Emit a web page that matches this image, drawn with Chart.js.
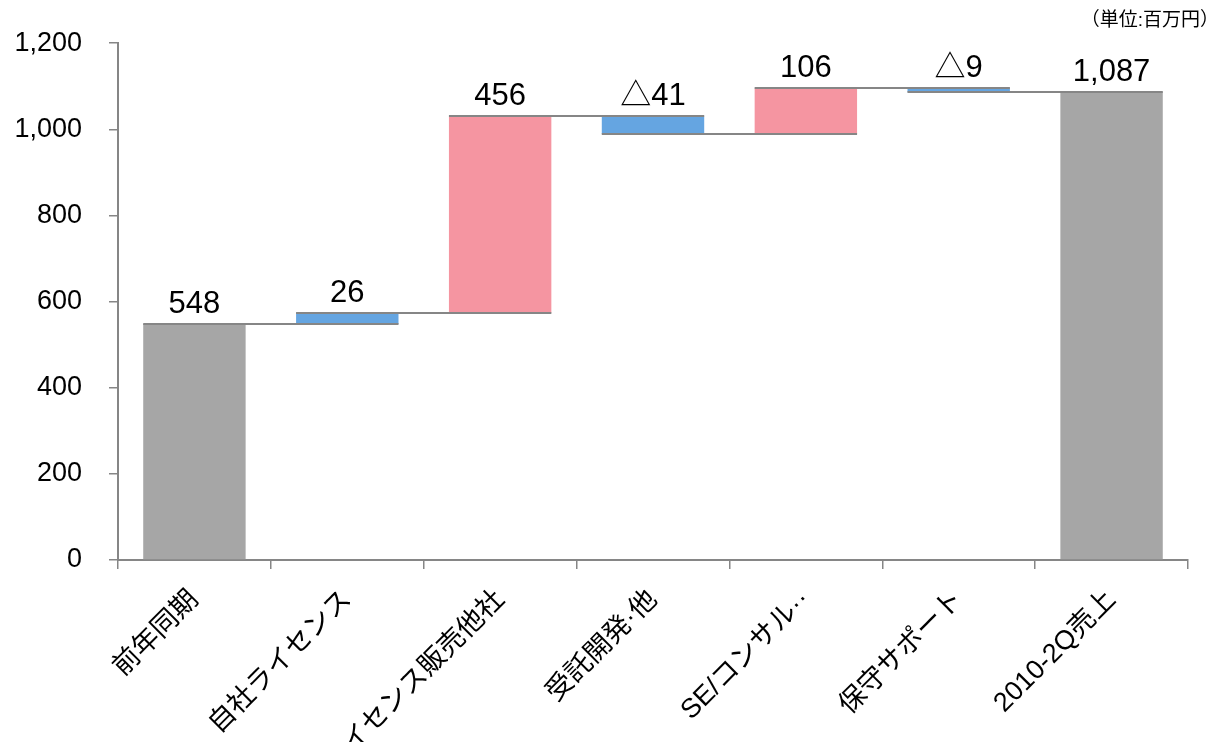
<!DOCTYPE html>
<html>
<head>
<meta charset="utf-8">
<script src="https://cdn.jsdelivr.net/npm/chart.js@4.4.1/dist/chart.umd.min.js"></script>
<style>
  html, body { margin: 0; padding: 0; background: #ffffff; }
  #wrap { width: 1217px; height: 742px; position: relative; }
</style>
</head>
<body>
<div id="wrap"><canvas id="waterfallChart"></canvas></div>
<script>
  // Data (百万円)
  const categories = [
    "前年同期",
    "自社ライセンス",
    "ライセンス販売他社",
    "受託開発·他",
    "SE/コンサル··",
    "保守サポート",
    "2010-2Q売上",
  ];
  const deltas = [548, 26, 456, -41, 106, -9, 1087];
  const isTotal = [true, false, false, false, false, false, true];
  const yTicks = [0, 200, 400, 600, 800, 1000, 1200];
  const unitText = "（単位:百万円）";

  // styles
  const barColors = ["#A6A6A6", "#65A5E1", "#F595A1", "#65A5E1", "#F595A1", "#65A5E1", "#A6A6A6"];
  const fontFamily = '"Liberation Sans", Arial, "Noto Sans CJK JP", sans-serif';
  const lineGray = "#868686";

  // build floating bars from running total
  let running = 0;
  const floating = deltas.map((v, i) => {
    if (isTotal[i]) {
      running = v;
      return [0, v];
    }
    const start = running;
    running += v;
    return [start, running];
  });

  const labelText = (v) => (v < 0 ? "△" + Math.abs(v).toLocaleString("en-US") : v.toLocaleString("en-US"));

  // connectors + value labels + unit text
  const waterfallDecor = {
    id: "waterfallDecor",
    afterDatasetsDraw(chart) {
      const { ctx } = chart;
      const meta = chart.getDatasetMeta(0);
      const yScale = chart.scales.y;

      ctx.save();
      ctx.strokeStyle = lineGray;
      ctx.lineWidth = 2;
      for (let i = 0; i < floating.length - 1; i++) {
        const a = meta.data[i];
        const b = meta.data[i + 1];
        const y = Math.round(yScale.getPixelForValue(floating[i][1]));
        ctx.beginPath();
        ctx.moveTo(a.x - a.width / 2, y);
        ctx.lineTo(b.x + b.width / 2, y);
        ctx.stroke();
      }

      ctx.fillStyle = "#000000";
      ctx.font = "31px " + fontFamily;
      ctx.textAlign = "center";
      ctx.textBaseline = "alphabetic";
      floating.forEach((range, i) => {
        const bar = meta.data[i];
        const top = yScale.getPixelForValue(Math.max(range[0], range[1]));
        ctx.fillText(labelText(deltas[i]), bar.x, top - 11);
      });

      ctx.font = "19px " + fontFamily;
      ctx.textAlign = "right";
      ctx.textBaseline = "middle";
      ctx.fillText(unitText, chart.width + 2, 21);
      ctx.restore();
    },
  };

  const ctx = document.getElementById("waterfallChart").getContext("2d");
  new Chart(ctx, {
    type: "bar",
    data: {
      labels: categories,
      datasets: [
        {
          data: floating,
          backgroundColor: barColors,
          borderWidth: 0,
          borderSkipped: false,
          categoryPercentage: 1.0,
          barPercentage: 0.67,
        },
      ],
    },
    options: {
      responsive: true,
      maintainAspectRatio: false,
      animation: false,
      layout: { padding: { top: 43, right: 29, left: 0, bottom: 0 } },
      plugins: {
        legend: { display: false },
        tooltip: { enabled: false },
      },
      scales: {
        x: {
          grid: {
            offset: true,
            drawOnChartArea: false,
            drawTicks: true,
            tickLength: 9,
            color: lineGray,
            lineWidth: 1.5,
          },
          border: { color: lineGray, width: 2 },
          ticks: {
            color: "#000000",
            font: { family: fontFamily, size: 27 },
            minRotation: 45,
            maxRotation: 45,
            autoSkip: false,
            padding: 15,
          },
          afterFit(scale) {
            scale.height = 182;
          },
        },
        y: {
          min: 0,
          max: 1200,
          afterBuildTicks(scale) {
            scale.ticks = yTicks.map((v) => ({ value: v }));
          },
          grid: {
            drawOnChartArea: false,
            drawTicks: true,
            tickLength: 9,
            color: lineGray,
            lineWidth: 1.5,
          },
          border: { color: lineGray, width: 2 },
          ticks: {
            color: "#000000",
            font: { family: fontFamily, size: 27 },
            padding: 27,
            callback: (v) => v.toLocaleString("en-US"),
          },
          afterFit(scale) {
            scale.width = 118;
          },
        },
      },
    },
    plugins: [waterfallDecor],
  });
</script>
</body>
</html>
